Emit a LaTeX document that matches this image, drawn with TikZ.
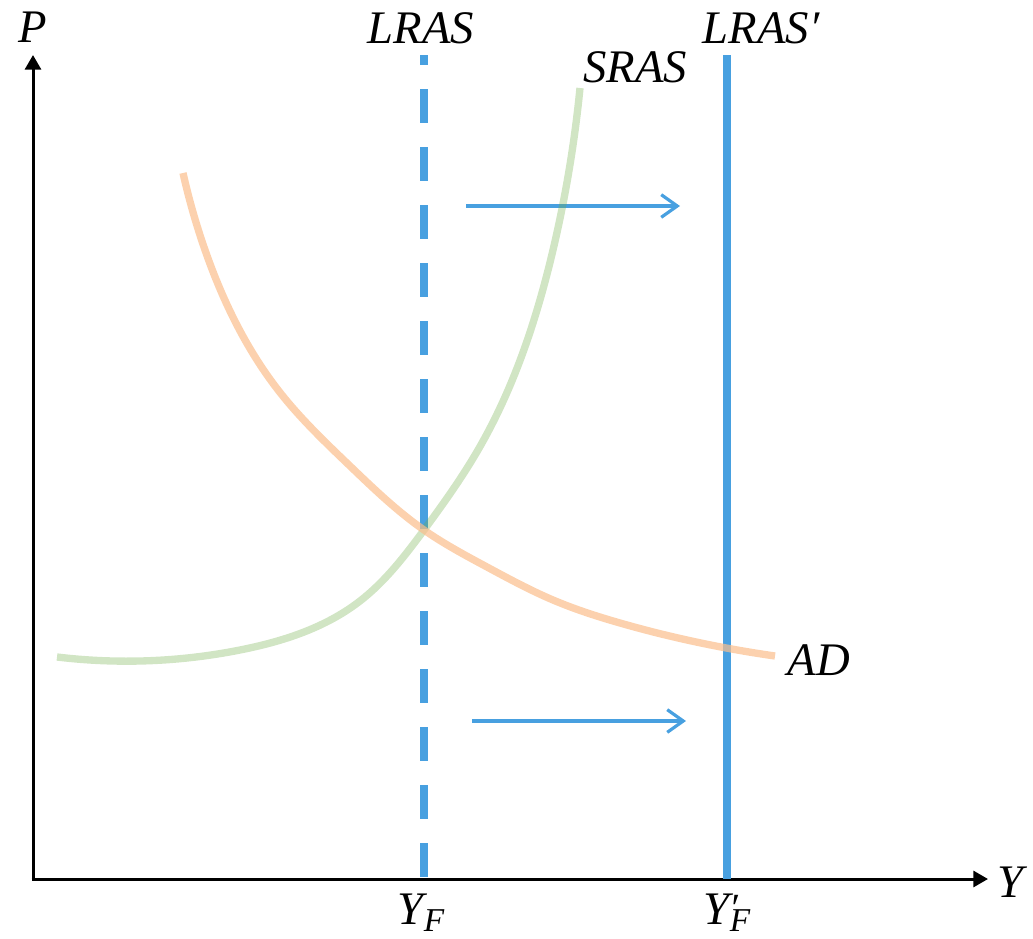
\documentclass[tikz,border=0pt]{standalone}
\usepackage{fontspec}
\setmainfont{Liberation Serif}
\usetikzlibrary{arrows.meta,hobby}
\definecolor{lrasblue}{RGB}{72,160,224}
\definecolor{srasgreen}{RGB}{112,173,71}
\definecolor{adorange}{RGB}{251,190,140}
\tikzset{
  lbl/.style={font=\fontsize{35}{40}\selectfont\itshape, inner sep=0pt, anchor=base},
  axisline/.style={line width=2.25pt, -{Triangle[length=11pt,width=12pt]}},
  lrasline/.style={line width=6pt, lrasblue},
  shiftarrow/.style={line width=2.4pt, lrasblue, -{Straight Barb[length=12pt,width=17pt,line width=2.4pt]}},
  curve/.style={line width=5.5pt, use Hobby shortcut},
}
\begin{document}
\begin{tikzpicture}[x=0.75pt,y=-0.75pt]
\useasboundingbox (0,0) rectangle (1033,939);
% axes
\coordinate (O) at (33,879);
\coordinate (Ptop) at (33,55);
\coordinate (Yend) at (988,879);
\draw[axisline] (O) -- (Ptop);
\draw[axisline] ([xshift=-1pt]O) -- (Yend);
% LRAS lines
\coordinate (L1top) at (424,55);
\coordinate (L1bot) at (424,879);
\coordinate (L2top) at (727,55);
\coordinate (L2bot) at (727,879);
\draw[lrasline, dash pattern=on 25.5pt off 18pt, dash phase=18pt] (L1top) -- (L1bot);
\draw[lrasline] (L2top) -- (L2bot);
% shift arrows
\coordinate (a1s) at (466,206);
\coordinate (a1e) at (680,206);
\coordinate (a2s) at (472,721);
\coordinate (a2e) at (686,721);
\draw[shiftarrow] (a1s) -- (a1e);
\draw[shiftarrow] (a2s) -- (a2e);
% curves
\draw[curve, srasgreen, opacity=0.32] (57,657) .. (240,650) .. (360,601) .. (424,530) .. (478,450) .. (553,250) .. (580,88);
\draw[curve, adorange, opacity=0.7] (183,173) .. (205,250) .. (282,395) .. (350,466) .. (424,530) .. (487,567) .. (553,600) .. (620,623) .. (687,640) .. (775,656);
% labels
\node[lbl] (P) at (33,42) {P};
\node[lbl] (Y) at (1010,897) {Y};
\node[lbl] (LRAS) at (421,43) {LRAS};
\node[lbl] (LRASp) at (761,43) {LRAS′};
\node[lbl] (SRAS) at (635,82) {SRAS};
\node[lbl] (AD) at (819,675) {AD};
\node[lbl] (YF) at (421,924) {Y\raisebox{-0.16em}{\fontsize{25}{28}\selectfont F}};
\node[lbl] (YFp) at (727,924) {Y\rlap{\raisebox{0.05em}{\fontsize{30}{30}\selectfont ′}}\raisebox{-0.16em}{\fontsize{25}{28}\selectfont F}};
\end{tikzpicture}
\end{document}
